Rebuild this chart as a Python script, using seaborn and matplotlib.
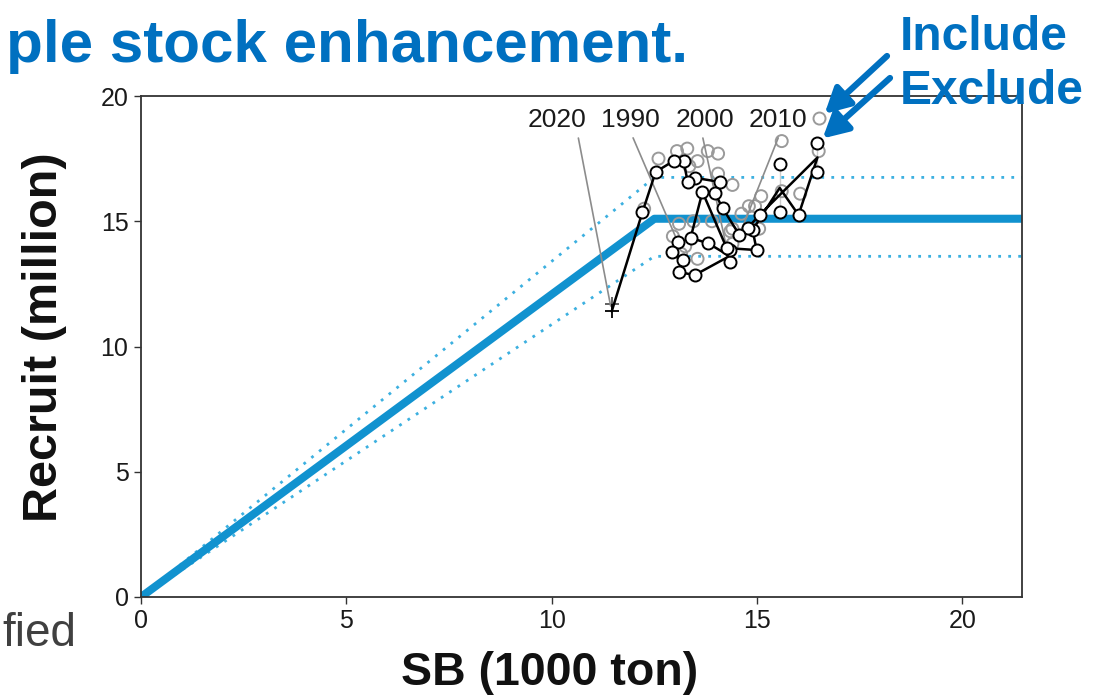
import matplotlib
matplotlib.use("Agg")
import matplotlib.pyplot as plt
import pandas as pd
import seaborn as sns

# Spawning biomass (1000 t) and recruitment (million), 1990-2020
years = list(range(1990, 2021))
sb_exclude = [13.07, 12.92, 13.19, 13.11, 13.48, 14.33, 14.33, 13.80, 13.38, 13.67,
              14.26, 14.99, 14.89, 15.55, 16.01, 16.47, 16.47, 15.55, 15.06, 14.77,
              14.57, 14.16, 13.97, 14.09, 13.50, 13.31, 13.21, 12.97, 12.53, 12.21, 11.46]
rec_exclude = [14.17, 13.77, 13.45, 12.97, 12.85, 13.37, 13.85, 14.13, 14.33, 16.17,
               13.93, 13.85, 14.65, 15.37, 15.25, 16.97, 18.12, 17.29, 15.25, 14.73,
               14.45, 15.53, 16.13, 16.57, 16.73, 16.57, 17.41, 17.41, 16.97, 15.37, 11.40]
sb_include = [13.10, 12.95, 13.25, 13.15, 13.55, 14.40, 14.40, 13.90, 13.45, 13.80,
              14.35, 15.05, 14.95, 15.60, 16.05, 16.50, 16.52, 15.60, 15.10, 14.80,
              14.62, 14.40, 14.05, 14.05, 13.55, 13.35, 13.30, 13.05, 12.60, 12.25, 11.46]
rec_include = [14.90, 14.40, 14.00, 13.70, 13.50, 14.10, 14.70, 15.00, 15.00, 17.80,
               14.60, 14.70, 15.60, 16.20, 16.10, 17.80, 19.10, 18.20, 16.00, 15.60,
               15.30, 16.45, 16.90, 17.70, 17.40, 17.20, 17.90, 17.80, 17.50, 15.50, 11.70]

# Hockey-stick stock-recruitment relationship and its interval
hs_sb = [0.0, 12.5, 21.45]
hs_rec = [0.0, 15.1, 15.1]
hs_upper = [0.0, 16.75, 16.75]
hs_lower = [0.0, 13.6, 13.6]

labeled_years = [2020, 1990, 2000, 2010]
label_sb = [10.12, 11.92, 13.72, 15.50]
label_rec = 19.04
label_relx = [0.85, 0.5, 0.45, 0.55]

x_ticks = [0, 5, 10, 15, 20]
y_ticks = [0, 5, 10, 15, 20]

sns.set_theme(style="ticks")
plt.rcParams["font.family"] = ["Liberation Sans", "DejaVu Sans"]

W, H = 1098, 700
fig = plt.figure(figsize=(W / 100, H / 100), dpi=100)
ax = fig.add_axes([141 / W, 103 / H, 881 / W, 501 / H])

blue = "#1192cf"
light_blue = "#3cb0e0"

hs = pd.DataFrame({"sb": hs_sb, "rec": hs_rec, "up": hs_upper, "lo": hs_lower})
sns.lineplot(data=hs, x="sb", y="up", ax=ax, color=light_blue, lw=2.0,
             linestyle=(0, (1, 2.6)), sort=False)
sns.lineplot(data=hs, x="sb", y="lo", ax=ax, color=light_blue, lw=2.0,
             linestyle=(0, (1, 2.6)), sort=False)
sns.lineplot(data=hs, x="sb", y="rec", ax=ax, color=blue, lw=5.8, sort=False,
             solid_capstyle="butt")

df = pd.DataFrame({"year": years, "sb_ex": sb_exclude, "rec_ex": rec_exclude,
                   "sb_in": sb_include, "rec_in": rec_include})
circles = df[df["year"] < 2020]
last = df[df["year"] == 2020]

# Including stock enhancement: grey open circles
sns.scatterplot(data=circles, x="sb_in", y="rec_in", ax=ax, marker="o", s=75,
                facecolor="none", edgecolor="#9a9a9a", linewidth=1.4, zorder=3)
sns.scatterplot(data=last, x="sb_in", y="rec_in", ax=ax, marker="+", s=110,
                color="#555555", linewidth=1.3, zorder=3)

# Excluding stock enhancement: black connected trajectory
sns.lineplot(data=df, x="sb_ex", y="rec_ex", ax=ax, sort=False, color="black",
             lw=1.8, zorder=4)
sns.scatterplot(data=circles, x="sb_ex", y="rec_ex", ax=ax, marker="o", s=75,
                facecolor="white", edgecolor="black", linewidth=1.4, zorder=5)
sns.scatterplot(data=last, x="sb_ex", y="rec_ex", ax=ax, marker="+", s=110,
                color="black", linewidth=1.3, zorder=5)

for yr, lx, rx in zip(labeled_years, label_sb, label_relx):
    i = years.index(yr)
    ax.annotate(str(yr), xy=(sb_exclude[i], rec_exclude[i]), xytext=(lx, label_rec),
                ha="center", va="center", fontsize=19, color="#1a1a1a",
                arrowprops=dict(arrowstyle="-", color="#8c8c8c", lw=1.2,
                                shrinkA=2, shrinkB=4, relpos=(rx, 0)))

ax.set_xlim(0, 21.45)
ax.set_ylim(0, 20)
ax.set_xticks(x_ticks)
ax.set_yticks(y_ticks)
ax.set_xlabel("")
ax.set_ylabel("")
ax.tick_params(direction="out", length=5, width=1, colors="#333333", labelsize=18,
               labelcolor="#1a1a1a", pad=4)
for s in ax.spines.values():
    s.set_visible(True)
    s.set_color("#333333")
    s.set_linewidth(1.3)

fig.text(45 / W, 1 - 337 / H, "Recruit (million)", rotation=90, ha="center",
         va="center", fontsize=35, fontweight="bold", color="#111111")
fig.text(550 / W, 1 - 673 / H, "SB (1000 ton)", ha="center", va="center",
         fontsize=33.5, fontweight="bold", color="#111111")

# Slide text around the chart
title_blue = "#0070c0"
fig.text(688 / W, 1 - 62 / H, "ple stock enhancement.", ha="right", va="baseline",
         fontsize=43.3, fontweight="bold", color=title_blue)
fig.text(900 / W, 1 - 50 / H, "Include", ha="left", va="baseline", fontsize=34.5,
         fontweight="bold", color=title_blue)
fig.text(900 / W, 1 - 104 / H, "Exclude", ha="left", va="baseline", fontsize=34.5,
         fontweight="bold", color=title_blue)
fig.text(2 / W, 1 - 646 / H, "fied", ha="left", va="baseline", fontsize=33,
         color="#404040")

i06 = years.index(2006)
arrow_kw = dict(arrowstyle="-|>,head_length=0.75,head_width=0.4", color=title_blue,
                lw=4.5, mutation_scale=20, shrinkA=0, shrinkB=5)
ax.annotate("", xy=(sb_include[i06], rec_include[i06]), xycoords="data",
            xytext=(887, H - 56), textcoords="figure pixels", arrowprops=arrow_kw,
            annotation_clip=False)
ax.annotate("", xy=(sb_exclude[i06], rec_exclude[i06]), xycoords="data",
            xytext=(890, H - 78), textcoords="figure pixels", arrowprops=arrow_kw,
            annotation_clip=False)

fig.savefig("out.png", dpi=100)
